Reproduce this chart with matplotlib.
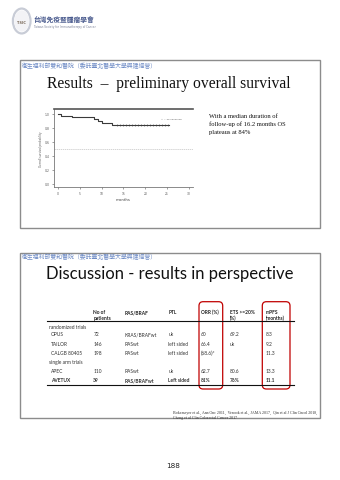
import matplotlib
matplotlib.use("Agg")
import matplotlib.pyplot as plt
from matplotlib.patches import Rectangle, FancyBboxPatch, Circle
import numpy as np

W, H = 340, 481

# ---------------- data ----------------
km_times = [0, 0.8, 3.3, 8.4, 9.2, 10.2, 12.5, 25.4]
km_surv = [1.0, 0.974, 0.949, 0.923, 0.897, 0.872, 0.846, 0.846]
censor_times = [13.6, 14.3, 15.0, 15.6, 16.3, 17.0, 17.6, 18.3, 19.0, 19.6,
                20.3, 21.0, 21.7, 22.4, 23.1, 23.8, 24.5, 25.2]
median_line = 0.5
x_ticks = [0, 5, 10, 15, 20, 25, 30]
y_ticks = [0.0, 0.2, 0.4, 0.6, 0.8, 1.0]

col_headers = [["No of", "patients"], ["RAS/BRAF"], ["PTL"], ["ORR (%)"],
               ["ETS >=20%", "(%)"], ["mPFS", "(months)"]]
trials = ["OPUS", "TAILOR", "CALGB 80405", "APEC", "AVETUX"]
groups = ["randomized trials", "single arm trials"]
n_patients = ["72", "146", "198", "110", "39"]
ras_braf = ["KRAS/BRAFwt", "RASwt", "RASwt", "RASwt", "RAS/BRAFwt"]
ptl = ["uk", "left sided", "left sided", "uk", "Left sided"]
orr = ["60", "66.4", "(68.6)*", "62.7", "81%"]
ets = ["69.2", "uk", "", "80.6", "76%"]
mpfs = ["8.3", "9.2", "11.3", "13.3", "11.1"]

header_cn = "衛生福利部雙和醫院（委託臺北醫學大學興建經營）"
title1 = "Results  –  preliminary overall survival"
title2 = "Discussion - results in perspective"
body1 = ["With a median duration of", "follow-up of 16.2 months OS", "plateaus at 84%"]
cite = ["Bokemeyer et al., Ann Onc 2011,  Venook et al., JAMA 2017,  Qin et al J Clin Oncol 2018,",
        "Cheng et al Clin Colorectal Cancer 2017"]

# ---------------- figure ----------------
fig = plt.figure(figsize=(W / 100, H / 100), dpi=100)
fig.patch.set_facecolor("white")
R = fig.canvas.get_renderer()


def px(x, y):
    return x / W, 1 - y / H


def text(x, y, s, **kw):
    return fig.text(*px(x, y), s, transform=fig.transFigure, **kw)


def fit(x, y, s, w, **kw):
    t = text(x, y, s, **kw)
    bb = t.get_window_extent(R)
    t.set_fontsize(t.get_fontsize() * w / bb.width)
    return t


def rect(x0, y0, x1, y1, **kw):
    fig.add_artist(Rectangle(px(x0, y1), (x1 - x0) / W, (y1 - y0) / H,
                             transform=fig.transFigure, fill=False, **kw))


CJK = ["Noto Sans CJK TC", "DejaVu Sans"]
blue = "#6f8cc6"

# logo
fig.add_artist(Circle(px(21.7, 22), 8.8 / W, transform=fig.transFigure,
                      fill=False, ec="#c8ccd6", lw=1.6))
fig.add_artist(Circle(px(21.7, 22), 7.5 / W, transform=fig.transFigure,
                      fill=True, fc="#f3f3f6", ec="none"))
text(21.7, 23, "TSIC", fontsize=2.6, color="#7a6a5a", ha="center", va="center",
     fontweight="bold")
fit(33.5, 20, "台灣免疫暨腫瘤學會", 61, fontsize=5, family=CJK, color="#4a5b8e",
    fontweight="bold", va="center")
fit(33.5, 26.8, "Taiwan Society for Immunotherapy of Cancer", 60, fontsize=2,
    color="#7a8098", va="center")

# ---------------- slide 1 ----------------
rect(20, 61, 319.5, 229, ec="#8c8c8c", lw=1.0)
fit(22, 66, header_cn, 134, fontsize=4, family=CJK, color=blue, va="center")
fit(46.7, 88.3, title1, 244, fontsize=12, family="Liberation Serif",
    color="#111111", va="baseline")

b0 = fit(209, 116, body1[1], 77, fontsize=4, family="Liberation Serif",
         color="#111111", va="center")
fs_body = b0.get_fontsize()
b0.remove()
for i, line in enumerate(body1):
    text(209, 116 + 8.5 * i, line, fontsize=fs_body, family="Liberation Serif",
         color="#111111", va="center")

# KM plot
ax = fig.add_axes([54 / W, 1 - 188 / H, (193 - 54) / W, (188 - 110) / H])
ax.step(km_times, km_surv, where="post", color="#3a3a3a", lw=0.8)
idx = np.searchsorted(km_times, censor_times, side="right") - 1
ax.plot(censor_times, np.array(km_surv)[idx], ls="none", marker="|",
        ms=1.6, mew=0.4, color="#3a3a3a")
ax.axhline(median_line, color="#c4c4c4", lw=0.5, ls=(0, (2, 1)))
ax.set_xlim(-0.85, 30.9)
ax.set_ylim(-0.043, 1.067)
ax.set_xticks(x_ticks)
ax.set_yticks(y_ticks)
ax.set_xticklabels([str(v) for v in x_ticks])
ax.set_yticklabels([f"{v:.1f}" for v in y_ticks])
ax.tick_params(labelsize=2.2, length=1.5, width=0.4, colors="#555555", pad=1.5)
ax.spines["right"].set_visible(False)
ax.spines["top"].set_color("#555555")
ax.spines["top"].set_linewidth(1.2)
for s in ["left", "bottom"]:
    ax.spines[s].set_color("#777777")
    ax.spines[s].set_linewidth(0.6)
ax.set_xlabel("months", fontsize=2.8, labelpad=1.5, color="#444444")
ax.set_ylabel("Overall survival probability", fontsize=1.9, labelpad=1.5,
              color="#555555")
ax.text(0.77, 0.88, "+ = 39 Censored", transform=ax.transAxes, fontsize=1.7,
        color="#555555", va="center")

# ---------------- slide 2 ----------------
rect(20, 254, 319.5, 419, ec="#8c8c8c", lw=1.0)
fit(22, 257, header_cn, 134, fontsize=4, family=CJK, color=blue, va="center")
fit(45.7, 279.3, title2, 248, fontsize=14, family="Lato", color="#111111",
    va="baseline")

TF = "Lato"
fs_t = 3.5
col_x = [93.3, 124.3, 168.3, 200.7, 230, 266]
for cx, hdr in zip(col_x, col_headers):
    for j, line in enumerate(hdr):
        text(cx, 312.7 + 5.6 * j, line, fontsize=fs_t, family=TF,
             fontweight="bold", color="#222222", va="center")

line_kw = dict(color="#111111", lw=0.8)
fig.add_artist(plt.Line2D([46.7 / W, 294.3 / W], [1 - 322.3 / H] * 2,
                          transform=fig.transFigure, **line_kw))
fig.add_artist(plt.Line2D([46.7 / W, 294.3 / W], [1 - 386 / H] * 2,
                          transform=fig.transFigure, **line_kw))

text(49.3, 327.3, groups[0], fontsize=fs_t, family=TF, color="#333333", va="center")
text(49.3, 362.7, groups[1], fontsize=fs_t, family=TF, color="#333333", va="center")
row_y = [335, 344.3, 353.3, 371.7, 380.7]
for i in range(len(trials)):
    bold = i == len(trials) - 1
    vals = [trials[i], n_patients[i], ras_braf[i], ptl[i], orr[i], ets[i], mpfs[i]]
    xs = [50.7] + col_x
    for xv, v in zip(xs, vals):
        text(xv, row_y[i], v, fontsize=fs_t, family=TF, color="#333333",
             fontweight="bold" if bold else "normal", va="center")

for x0, x1 in [(199, 222.7), (262.3, 290)]:
    fig.add_artist(FancyBboxPatch(px(x0, 390), (x1 - x0) / W, (390 - 302.7) / H,
                                  boxstyle="round,pad=0,rounding_size=0.012",
                                  transform=fig.transFigure, fill=False,
                                  ec="#c00000", lw=0.9,
                                  mutation_aspect=W / H))

c0 = fit(173.3, 412.7, cite[0], 145, fontsize=2.5, family="Liberation Serif",
         color="#333333", va="center")
text(173.3, 418.3, cite[1], fontsize=c0.get_fontsize(), family="Liberation Serif",
     color="#333333", va="center")

# page number
text(173, 466, "188", fontsize=5.2, color="#222222", ha="center", va="center")

fig.savefig("out.png", dpi=100, facecolor="white")
